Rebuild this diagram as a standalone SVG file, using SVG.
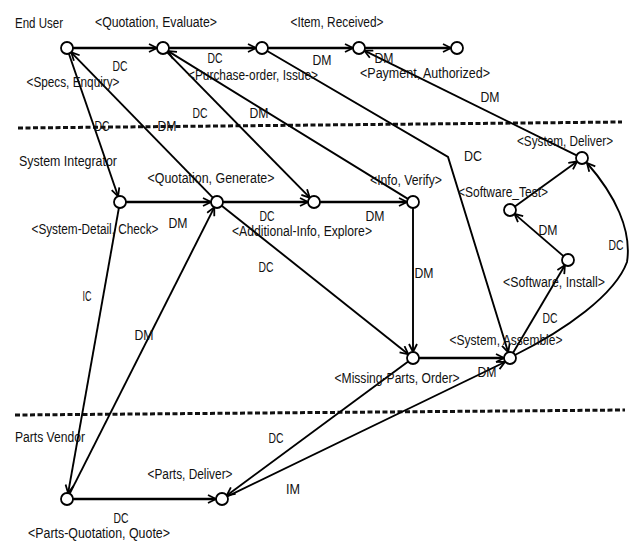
<svg xmlns="http://www.w3.org/2000/svg" width="629" height="544" viewBox="0 0 629 544">
<defs>
<marker id="arr" markerUnits="userSpaceOnUse" viewBox="0 0 10 10" refX="9" refY="5" markerWidth="10" markerHeight="10" orient="auto">
<path d="M1,1 L9,5 L1,9" fill="none" stroke="#000" stroke-width="1.8" stroke-linejoin="miter"/>
</marker>
<style>
text{font-family:"Liberation Sans",Arial,sans-serif;font-size:14px;fill:#111;text-anchor:middle}
.n{fill:#fff;stroke:#000;stroke-width:1.8}
.e{fill:none;stroke:#000;stroke-width:1.9;marker-end:url(#arr)}
.h{stroke-width:2.6}
.d{fill:none;stroke:#111;stroke-width:3;stroke-dasharray:5,2.5}
</style>
</defs>
<rect width="629" height="544" fill="#fff"/>
<g id="lanes">
<line class="d" x1="18" y1="128" x2="622" y2="122"/>
<line class="d" x1="15" y1="415" x2="625" y2="410"/>
<text x="39" y="28" textLength="48" lengthAdjust="spacingAndGlyphs">End User</text>
<text x="68" y="166" textLength="98" lengthAdjust="spacingAndGlyphs">System Integrator</text>
<text x="50" y="442" textLength="70" lengthAdjust="spacingAndGlyphs">Parts Vendor</text>
</g>
<g id="connectors">
<path class="e h" d="M73,48 L157,48"/>
<path class="e h" d="M169,48 L256,48"/>
<path class="e h" d="M268,48 L353,48"/>
<path class="e h" d="M365,48 L451,48"/>
<path class="e" d="M68.9,53.7 L118.1,196.3"/>
<path class="e" d="M212.8,197.7 L71.2,52.3"/>
<path class="e" d="M167.2,52.3 L309.8,197.7"/>
<path class="e" d="M407.9,198.9 L168.1,51.1"/>
<path class="e" d="M267.2,51 L448,157 L508.2,352.3"/>
<path class="e" d="M576.6,155.3 L364.4,50.7"/>
<path class="e h" d="M126,202 L211,202"/>
<path class="e h" d="M223,202 L308,202"/>
<path class="e h" d="M320,202 L407,202"/>
<path class="e" d="M413,208 L413,352"/>
<path class="e" d="M221.7,205.7 L408.3,354.3"/>
<path class="e h" d="M419,358 L504,358"/>
<path class="e" d="M513.1,352.8 L564.9,265.2"/>
<path class="e" d="M563.5,256.1 L514.5,213.9"/>
<path class="e" d="M514.9,206.5 L577.1,161.5"/>
<path class="e" d="M118.9,207.9 L68.1,493.1"/>
<path class="e" d="M69.7,493.6 L214.3,207.4"/>
<path class="e h" d="M73,499 L216,499"/>
<path class="e" d="M408.2,361.6 L226.8,495.4"/>
<path class="e" d="M227.4,496.4 L505,362"/>
<path class="e" d="M515,355 C565,330 615,295 627,262 C632,230 615,195 587,163"/>
<text x="120" y="71" textLength="15" lengthAdjust="spacingAndGlyphs">DC</text>
<text x="215" y="63" textLength="15" lengthAdjust="spacingAndGlyphs">DC</text>
<text x="322" y="65" textLength="19" lengthAdjust="spacingAndGlyphs">DM</text>
<text x="384" y="63" textLength="19" lengthAdjust="spacingAndGlyphs">DM</text>
<text x="490" y="102" textLength="19" lengthAdjust="spacingAndGlyphs">DM</text>
<text x="200" y="118" textLength="15" lengthAdjust="spacingAndGlyphs">DC</text>
<text x="259" y="118" textLength="19" lengthAdjust="spacingAndGlyphs">DM</text>
<text x="102" y="131" textLength="15" lengthAdjust="spacingAndGlyphs">DC</text>
<text x="167" y="131" textLength="19" lengthAdjust="spacingAndGlyphs">DM</text>
<text x="178" y="228" textLength="19" lengthAdjust="spacingAndGlyphs">DM</text>
<text x="267" y="221" textLength="15" lengthAdjust="spacingAndGlyphs">DC</text>
<text x="375" y="221" textLength="19" lengthAdjust="spacingAndGlyphs">DM</text>
<text x="266" y="272" textLength="15" lengthAdjust="spacingAndGlyphs">DC</text>
<text x="473" y="161" textLength="18" lengthAdjust="spacingAndGlyphs">DC</text>
<text x="548" y="235" textLength="19" lengthAdjust="spacingAndGlyphs">DM</text>
<text x="616" y="250" textLength="15" lengthAdjust="spacingAndGlyphs">DC</text>
<text x="424" y="278" textLength="19" lengthAdjust="spacingAndGlyphs">DM</text>
<text x="550" y="323" textLength="15" lengthAdjust="spacingAndGlyphs">DC</text>
<text x="487" y="377" textLength="19" lengthAdjust="spacingAndGlyphs">DM</text>
<text x="87" y="301" textLength="9" lengthAdjust="spacingAndGlyphs">IC</text>
<text x="144" y="340" textLength="19" lengthAdjust="spacingAndGlyphs">DM</text>
<text x="276" y="443" textLength="15" lengthAdjust="spacingAndGlyphs">DC</text>
<text x="293" y="494" textLength="14" lengthAdjust="spacingAndGlyphs">IM</text>
<text x="121" y="523" textLength="15" lengthAdjust="spacingAndGlyphs">DC</text>
</g>
<g id="specs-enquiry"><circle class="n" cx="67" cy="48" r="6"/><text x="73" y="87" textLength="93" lengthAdjust="spacingAndGlyphs">&lt;Specs, Enquiry&gt;</text></g>
<g id="quotation-evaluate"><circle class="n" cx="163" cy="48" r="6"/><text x="156" y="27" textLength="122" lengthAdjust="spacingAndGlyphs">&lt;Quotation, Evaluate&gt;</text></g>
<g id="purchase-order-issue"><circle class="n" cx="262" cy="48" r="6"/><text x="253" y="80" textLength="130" lengthAdjust="spacingAndGlyphs">&lt;Purchase-order, Issue&gt;</text></g>
<g id="item-received"><circle class="n" cx="359" cy="48" r="6"/><text x="337" y="27" textLength="93" lengthAdjust="spacingAndGlyphs">&lt;Item, Received&gt;</text></g>
<g id="payment-authorized"><circle class="n" cx="457" cy="48" r="6"/><text x="425" y="78" textLength="130" lengthAdjust="spacingAndGlyphs">&lt;Payment, Authorized&gt;</text></g>
<g id="system-detail-check"><circle class="n" cx="120" cy="202" r="6"/><text x="95" y="234" textLength="127" lengthAdjust="spacingAndGlyphs">&lt;System-Detail, Check&gt;</text></g>
<g id="quotation-generate"><circle class="n" cx="217" cy="202" r="6"/><text x="211" y="183" textLength="127" lengthAdjust="spacingAndGlyphs">&lt;Quotation, Generate&gt;</text></g>
<g id="additional-info-explore"><circle class="n" cx="314" cy="202" r="6"/><text x="302" y="236" textLength="140" lengthAdjust="spacingAndGlyphs">&lt;Additional-Info, Explore&gt;</text></g>
<g id="info-verify"><circle class="n" cx="413" cy="202" r="6"/><text x="406" y="185" textLength="72" lengthAdjust="spacingAndGlyphs">&lt;Info, Verify&gt;</text></g>
<g id="missing-parts-order"><circle class="n" cx="413" cy="358" r="6"/><text x="397" y="383" textLength="125" lengthAdjust="spacingAndGlyphs">&lt;Missing-Parts, Order&gt;</text></g>
<g id="system-assemble"><circle class="n" cx="510" cy="358" r="6"/><text x="506" y="345" textLength="113" lengthAdjust="spacingAndGlyphs">&lt;System, Assemble&gt;</text></g>
<g id="software-install"><circle class="n" cx="568" cy="260" r="6"/><text x="554" y="287" textLength="102" lengthAdjust="spacingAndGlyphs">&lt;Software, Install&gt;</text></g>
<g id="software-test"><circle class="n" cx="510" cy="210" r="6"/><text x="503" y="197" textLength="90" lengthAdjust="spacingAndGlyphs">&lt;Software_Test&gt;</text></g>
<g id="system-deliver"><circle class="n" cx="582" cy="158" r="6"/><text x="565" y="146" textLength="96" lengthAdjust="spacingAndGlyphs">&lt;System, Deliver&gt;</text></g>
<g id="parts-quotation-quote"><circle class="n" cx="67" cy="499" r="6"/><text x="99" y="538" textLength="142" lengthAdjust="spacingAndGlyphs">&lt;Parts-Quotation, Quote&gt;</text></g>
<g id="parts-deliver"><circle class="n" cx="222" cy="499" r="6"/><text x="190" y="479" textLength="85" lengthAdjust="spacingAndGlyphs">&lt;Parts, Deliver&gt;</text></g>
</svg>
